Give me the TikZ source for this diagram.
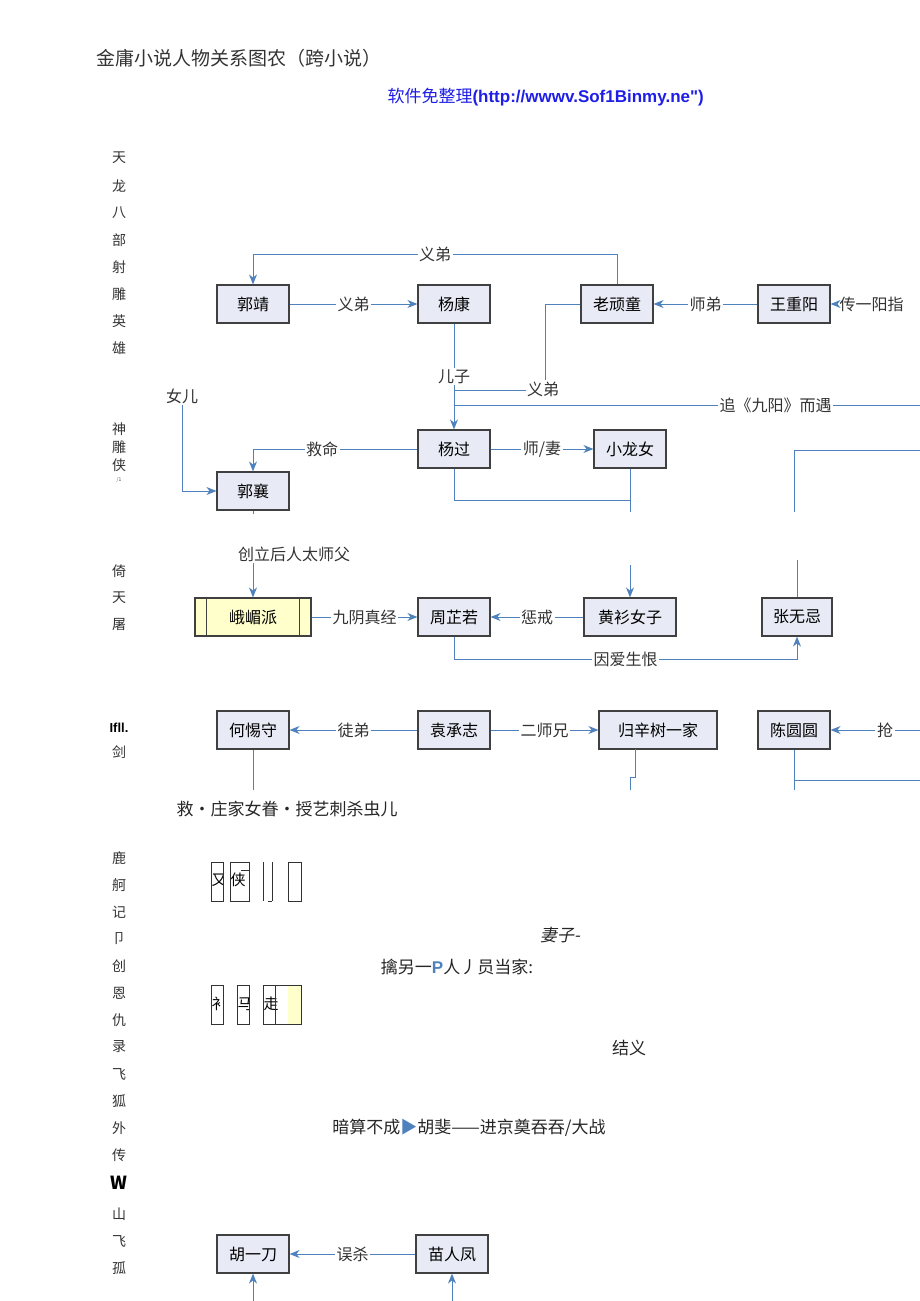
\documentclass[tikz,border=0pt]{standalone}
\usepackage{fontspec}
\setmainfont{Noto Sans CJK SC}
\newfontfamily\urlfont{Liberation Sans}
\newfontfamily\slantfont[FakeSlant=0.2]{Noto Sans CJK SC}
\usetikzlibrary{positioning,arrows.meta}
\definecolor{boxfill}{RGB}{232,235,245}
\definecolor{linkblue}{RGB}{79,129,189}
\definecolor{emeiyellow}{RGB}{255,255,204}
\definecolor{urlblue}{RGB}{30,30,230}
\begin{document}
\begin{tikzpicture}[x=1pt,y=-1pt,
    person/.style={draw=black!75, line width=1.2pt, fill=boxfill, minimum width=72pt, minimum height=38pt, inner sep=2pt, font=\fontsize{16}{18}\selectfont},
    tag/.style={fill=white, inner sep=1.5pt, font=\fontsize{16}{18}\selectfont, text=black!80},
    side/.style={font=\fontsize{14}{16}\selectfont, text=black!80},
    note/.style={font=\fontsize{17}{19}\selectfont, text=black!85},
    link/.style={line width=1pt, draw=linkblue},
    arr/.style={link, -{Stealth[length=10pt,width=8pt]}}]
    \useasboundingbox (0,0) rectangle (920,1301);
    \clip (0,0) rectangle (920,1301);

    % Title
    \node[right, font=\fontsize{19}{21}\selectfont, text=black!80] (title) at (93,58) {金庸小说人物关系图农（跨小说）};
    \node[right, text=urlblue, font=\fontsize{17}{19}\selectfont] (source) at (384,97) {软件免整理{\urlfont\bfseries(http://wwwv.Sof1Binmy.ne")}};

    % Side labels
    \foreach \ch/\y in {天/158,龙/186,八/213,部/240,射/267,雕/294,英/321,雄/348,
                        倚/571,天/598,屠/625,剑/752,
                        鹿/858,舸/885,记/912,卩/939,创/966,恩/993,仇/1020,录/1047,
                        飞/1074,狐/1101,外/1128,传/1155,山/1214,飞/1241,孤/1268}
        \node[side] at (119,\y) {\ch};
    \foreach \ch/\y in {神/429,雕/447,侠/465}
        \node[side, inner sep=0pt, font=\fontsize{14}{14}\selectfont] at (119,\y) {\ch};
    \node[font=\tiny, text=black!70] at (119,480) {/1};
    \node[font=\urlfont\bfseries\fontsize{13}{15}\selectfont] at (119,728) {Ifll.};
    \node[font=\bfseries\fontsize{18}{20}\selectfont] at (119,1183) {W};

    % Row 1
    \node[person] (guojing) at (253,304) {郭靖};
    \node[person] (yangkang) at (454,304) {杨康};
    \node[person] (laowantong) at (617,304) {老顽童};
    \node[person] (wangchongyang) at (794,304) {王重阳};
    \node[tag, right] (yiyangzhi) at (838,304) {传一阳指};

    % Row 2
    \node[person] (yangguo) at (454,449) {杨过};
    \node[person] (xiaolongnv) at (630,449) {小龙女};
    \node[person] (guoxiang) at (253,491) {郭襄};
    \node[tag] (nver) at (182,396) {女儿};

    % Row 3
    \node[person, fill=emeiyellow, minimum width=116pt] (emei) at (253,617) {峨嵋派};
    \node[person] (zhouzhiruo) at (454,617) {周芷若};
    \node[person, minimum width=92pt] (huangshan) at (630,617) {黄衫女子};
    \node[person, minimum width=70pt] (zhangwuji) at (797,617) {张无忌};
    \node[tag] (chuangli) at (294,554) {创立后人太师父};

    % Row 4
    \node[person] (hetishou) at (253,730) {何惕守};
    \node[person] (yuanchengzhi) at (454,730) {袁承志};
    \node[person, minimum width=118pt] (guixinshu) at (658,730) {归辛树一家};
    \node[person] (chenyuanyuan) at (794,730) {陈圆圆};
    \node[tag] (qiang) at (885,730) {抢};

    % Row 5
    \node[person] (huyidao) at (253,1254) {胡一刀};
    \node[person] (miaorenfeng) at (452,1254) {苗人凤};

    % Links, row 1 and 2
    \draw[arr] (laowantong.north) -- (617,254) -- node[tag]{义弟} (253,254) -- (guojing.north);
    \draw[arr] (guojing) -- node[tag]{义弟} (yangkang);
    \draw[arr] (wangchongyang) -- node[tag]{师弟} (laowantong);
    \draw[arr] (yiyangzhi) -- (wangchongyang);
    \draw[arr] (yangkang) -- node[tag]{儿子} (yangguo);
    \draw[link] (laowantong.west) -| (545,390) -- (454,390);
    \node[tag] at (543,389) {义弟};
    \draw[link] (454,405) -- node[tag, pos=0.69]{追《九阳》而遇} (920,405);
    \draw[arr] (yangguo.west) -| node[tag, pos=0.29]{救命} (guoxiang.north);
    \draw[arr] (yangguo) -- node[tag]{师/妻} (xiaolongnv);
    \draw[arr] (nver.south) |- (guoxiang.west);
    \draw[link] (yangguo.south) |- (630,500);
    \draw[link] (xiaolongnv.south) -- (630,512);
    \draw[link] (guoxiang.south) -- ++(0,3);
    \draw[link] (794,512) |- (920,450);

    % Links, row 3
    \draw[arr] (chuangli.south -| emei.north) -- (emei.north);
    \draw[line width=1.2pt, draw=black!75] ([xshift=12pt]emei.north west) -- ([xshift=12pt]emei.south west)
        ([xshift=-12pt]emei.north east) -- ([xshift=-12pt]emei.south east);
    \draw[arr] (emei) -- node[tag]{九阴真经} (zhouzhiruo);
    \draw[arr] (huangshan) -- node[tag]{惩戒} (zhouzhiruo);
    \draw[arr] (630,565) -- (huangshan.north);
    \draw[link] (zhangwuji.north) -- (797,560);
    \draw[arr] (zhouzhiruo.south) -- (454,659) -- node[tag, pos=0.5]{因爱生恨} (797,659) -- (zhangwuji.south);

    % Links, row 4
    \draw[arr] (yuanchengzhi) -- node[tag]{徒弟} (hetishou);
    \draw[arr] (yuanchengzhi) -- node[tag]{二师兄} (guixinshu);
    \draw[arr] (920,730) -- (qiang) -- (chenyuanyuan);
    \draw[link] (hetishou.south) -- (253,790);
    \draw[link] (635,749) -- (635,777) -- (630,777) -- (630,790);
    \draw[link] (chenyuanyuan.south) -- (794,790) (794,780) -- (920,780);
    \node[note, right] (jiu) at (173,809) {救・庄家女眷・授艺刺杀虫儿};

    % Broken boxes
    \foreach \xa/\xb/\ch in {211/223/又,230/249/侠,288/301/{}} {
        \begin{scope}
            \clip (\xa,862) rectangle (\xb,901);
            \node[font=\fontsize{15}{17}\selectfont] at (\xa+8,880) {\ch};
        \end{scope}
        \draw[black!80] (\xa,862) rectangle (\xb,901);
    }
    \draw[black!80] (241,870) -- (249,870) (263,862) -- (263,901) (272,862) -- (272,901) (268,901) -- (272,901);
    \fill[emeiyellow] (288,985) rectangle (301,1024);
    \foreach \xa/\xb/\ch in {211/223/衤,237/249/马,263/301/走} {
        \begin{scope}
            \clip (\xa,985) rectangle (\xb,1024);
            \node[font=\fontsize{15}{17}\selectfont] at (\xa+8,1004) {\ch};
        \end{scope}
        \draw[black!80] (\xa,985) rectangle (\xb,1024);
    }
    \draw[black!80] (275,985) -- (275,1024);

    % Loose notes
    \node[note, font=\slantfont\fontsize{17}{19}\selectfont] (qizi) at (560,935) {妻子-};
    \node[note] (qin) at (457,967) {擒另一{\urlfont\bfseries\color{linkblue}P}人丿员当家:};
    \node[note] (jieyi) at (629,1048) {结义};
    \node[note] (ansuan) at (469,1128) {暗算不成{\color{linkblue}▶}胡斐——进京奠吞吞/大战};

    % Links, row 5
    \draw[arr] (miaorenfeng) -- node[tag]{误杀} (huyidao);
    \draw[arr] (253,1301) -- (huyidao.south);
    \draw[arr] (452,1301) -- (miaorenfeng.south);
\end{tikzpicture}
\end{document}
